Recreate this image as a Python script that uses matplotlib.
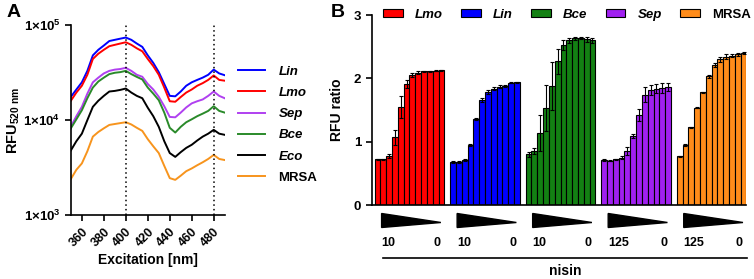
import numpy as np
import matplotlib.pyplot as plt
from matplotlib.lines import Line2D
import matplotlib.transforms as mtransforms

plt.rcParams['font.family'] = ['Liberation Sans', 'DejaVu Sans']
plt.rcParams['font.weight'] = 'bold'
plt.rcParams['axes.labelweight'] = 'bold'
plt.rcParams['mathtext.fontset'] = 'custom'
plt.rcParams['mathtext.rm'] = 'Liberation Sans:bold'
plt.rcParams['mathtext.bf'] = 'Liberation Sans:bold'
plt.rcParams['mathtext.it'] = 'Liberation Sans:bold:italic'
plt.rcParams['mathtext.default'] = 'bf'

# ---- panel A data: excitation spectra (RFU at 520 nm) ----
wavelength = np.arange(350, 491, 5)
rfu_lin = [17.6, 21, 25, 33, 48, 55, 61, 68, 70, 72, 74, 70, 64, 59, 48, 40, 32, 24, 18, 17.8,
           20, 23, 25, 26.5, 28, 30, 34, 31, 29.7]
rfu_lmo = [16, 19.5, 23, 30, 44, 50, 55, 60, 62, 64, 66, 62, 57, 53, 44, 37, 30, 22, 15.8, 15.6,
           17.5, 19.5, 21, 23, 24.5, 26.5, 29.5, 26.5, 26]
rfu_sep = [8.6, 11, 13.8, 19, 25, 28, 31, 33, 34, 34.5, 35.5, 33, 30, 28.6, 24, 21, 17.6, 14, 10.8, 10.7,
           12, 13.6, 15, 15.8, 16.5, 18, 20, 18, 17]
rfu_bce = [8.2, 10.2, 12.7, 17, 22, 25.5, 28, 30.5, 31.5, 32, 33, 30.5, 28.5, 26.8, 22, 19, 16.2, 12, 8.3, 7.4,
           8.5, 9.5, 10.2, 11, 11.7, 12.5, 14, 12.5, 12]
rfu_eco = [4.8, 6.0, 7.2, 10, 13.8, 16, 18, 20, 20.3, 20.8, 21.5, 19.5, 18, 17, 13.5, 11, 8.5, 6, 4.5, 4.1,
           4.6, 5.1, 5.5, 6.1, 6.7, 7.2, 7.9, 7.2, 7.0]
rfu_mrsa = [2.4, 3.0, 3.5, 4.7, 6.7, 7.5, 8.2, 8.9, 9.1, 9.3, 9.5, 9.0, 8.3, 7.7, 6.3, 5.3, 4.5, 3.3, 2.45, 2.35,
            2.6, 2.9, 3.1, 3.35, 3.6, 3.9, 4.3, 3.9, 3.8]

# ---- panel B data: RFU ratio with nisin dilution series ----
ratio_lmo = [0.72, 0.72, 0.78, 1.07, 1.55, 1.91, 2.05, 2.09, 2.11, 2.11, 2.12, 2.13]
err_lmo = [0.01, 0.01, 0.03, 0.12, 0.17, 0.06, 0.03, 0.02, 0.01, 0.01, 0.01, 0.01]
ratio_lin = [0.68, 0.68, 0.71, 0.95, 1.36, 1.66, 1.78, 1.84, 1.87, 1.88, 1.93, 1.94]
err_lin = [0.01, 0.01, 0.01, 0.01, 0.02, 0.03, 0.03, 0.02, 0.02, 0.01, 0.01, 0.01]
ratio_bce = [0.80, 0.85, 1.14, 1.53, 1.88, 2.27, 2.53, 2.60, 2.63, 2.64, 2.62, 2.60]
err_bce = [0.04, 0.05, 0.28, 0.36, 0.38, 0.20, 0.08, 0.04, 0.03, 0.02, 0.04, 0.04]
ratio_sep = [0.71, 0.70, 0.72, 0.75, 0.85, 1.09, 1.42, 1.74, 1.81, 1.84, 1.85, 1.86]
err_sep = [0.01, 0.01, 0.01, 0.02, 0.06, 0.03, 0.10, 0.12, 0.08, 0.07, 0.08, 0.06]
ratio_mrsa = [0.77, 0.95, 1.23, 1.54, 1.78, 2.03, 2.21, 2.30, 2.34, 2.36, 2.38, 2.40]
err_mrsa = [0.01, 0.02, 0.01, 0.01, 0.01, 0.02, 0.03, 0.04, 0.04, 0.03, 0.02, 0.02]

strains_b = ['Lmo', 'Lin', 'Bce', 'Sep', 'MRSA']
nisin_max = ['10', '10', '10', '125', '125']

c_red, c_blue, c_green, c_purple, c_orange = '#FF0000', '#0000FF', '#138013', '#A020F0', '#FF8C1A'

fig = plt.figure(figsize=(7.54, 2.79), dpi=100)

# ================= panel A =================
axA = fig.add_axes([0.094, 0.229, 0.204, 0.681])
series_a = [('Lin', rfu_lin, c_blue), ('Lmo', rfu_lmo, c_red), ('Sep', rfu_sep, '#B040F0'),
            ('Bce', rfu_bce, '#2A8A2A'), ('Eco', rfu_eco, 'black'), ('MRSA', rfu_mrsa, '#F7941D')]
handles = []
for name, vals, col in series_a:
    axA.plot(wavelength, np.array(vals) * 1000, color=col, lw=1.4)
    handles.append(Line2D([], [], color=col, lw=1.4))
for xv in [400, 480]:
    axA.axvline(xv, color='black', lw=1.1, ls=(0, (1, 2)))
axA.set_yscale('log')
axA.set_ylim(1e3, 1e5)
axA.set_xlim(350, 490)
axA.set_yticks([1e3, 1e4, 1e5])
axA.set_yticklabels([r'1$\times$10$^{3}$', r'1$\times$10$^{4}$', r'1$\times$10$^{5}$'])
axA.yaxis.set_minor_locator(plt.NullLocator())
axA.set_xticks(np.arange(360, 481, 20))
axA.set_xticklabels([str(v) for v in range(360, 481, 20)], rotation=45, ha='right',
                    rotation_mode='anchor')
for s in ['top', 'right']:
    axA.spines[s].set_visible(False)
for s in ['left', 'bottom']:
    axA.spines[s].set_linewidth(1.2)
axA.tick_params(width=1.2, length=4, labelsize=9)
axA.tick_params(axis='y', labelsize=9.5)
axA.set_xlabel('Excitation [nm]', fontsize=10, labelpad=3)
axA.set_ylabel(r'RFU$_{\mathregular{520\ nm}}$', fontsize=10.5, labelpad=1)
leg = axA.legend(handles, [s[0] for s in series_a], loc='upper left', bbox_to_anchor=(0.315, 0.765),
                 bbox_transform=fig.transFigure, frameon=False, fontsize=9.5, handlelength=2.1,
                 handletextpad=1.0, labelspacing=0.68, borderpad=0, borderaxespad=0)
for t in leg.get_texts():
    t.set_fontweight('bold')
    if t.get_text() != 'MRSA':
        t.set_fontstyle('italic')

fig.text(0.008, 0.955, 'A', fontsize=14, fontweight='bold', va='center')

# ================= panel B =================
axB = fig.add_axes([0.493, 0.265, 0.497, 0.681])
ratios = [ratio_lmo, ratio_lin, ratio_bce, ratio_sep, ratio_mrsa]
errs = [err_lmo, err_lin, err_bce, err_sep, err_mrsa]
cols_b = [c_red, c_blue, c_green, c_purple, c_orange]
n = len(ratio_lmo)
for g in range(5):
    xs = g * (n + 1) + np.arange(n)
    axB.bar(xs, ratios[g], width=1.0, color=cols_b[g], edgecolor='black', linewidth=0.8,
            label=strains_b[g], zorder=2)
    axB.errorbar(xs, ratios[g], yerr=errs[g], fmt='none', ecolor='black', elinewidth=0.8,
                 capsize=1.5, capthick=0.8, zorder=3)
axB.set_xlim(-1.0, 5 * (n + 1) - 1 - 0.5)
axB.set_ylim(0, 3)
axB.set_yticks([0, 1, 2, 3])
axB.set_xticks([])
for s in ['top', 'right']:
    axB.spines[s].set_visible(False)
for s in ['left', 'bottom']:
    axB.spines[s].set_linewidth(1.2)
axB.tick_params(width=1.2, length=4, labelsize=9.5)
axB.set_ylabel('RFU ratio', fontsize=10, labelpad=7)

legB = axB.legend(ncol=5, loc='lower left', bbox_to_anchor=(0.508, 0.925), bbox_transform=fig.transFigure,
                  frameon=False, fontsize=9.5, handlelength=1.5, handleheight=0.6, handletextpad=0.9,
                  columnspacing=1.4, borderpad=0, borderaxespad=0)
for t in legB.get_texts():
    t.set_fontweight('bold')
    if t.get_text() != 'MRSA':
        t.set_fontstyle('italic')

# dilution wedges, concentration labels and nisin line below the bars
trans = mtransforms.blended_transform_factory(axB.transData, fig.transFigure)
y_top, y_bot, y_tip = 1 - 213.5 / 279, 1 - 227.5 / 279, 1 - 222.5 / 279
for g in range(5):
    x0 = g * (n + 1) + 0.7
    x1 = g * (n + 1) + 10.9
    axB.fill([x0, x0, x1], [y_top, y_bot, y_tip], color='black', transform=trans, clip_on=False)
    fig.text(x0, 1 - 242.5 / 279, nisin_max[g], transform=trans, fontsize=9, fontweight='bold',
             ha='left', va='center')
    fig.text(x1, 1 - 242.5 / 279, '0', transform=trans, fontsize=9, fontweight='bold',
             ha='right', va='center')
axB.plot([0.9, 5 * (n + 1) - 1.4], [1 - 257.5 / 279] * 2, color='black', lw=1.2, transform=trans,
         clip_on=False)
fig.text((0.9 + 5 * (n + 1) - 1.4) / 2, 1 - 271 / 279, 'nisin', transform=trans, fontsize=10,
         fontweight='bold', ha='center', va='center')

fig.text(0.438, 0.955, 'B', fontsize=14, fontweight='bold', va='center')

fig.savefig('out.png', dpi=100)
